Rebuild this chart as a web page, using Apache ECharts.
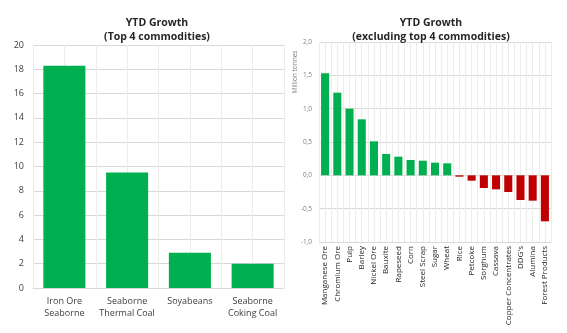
<!DOCTYPE html>
<html>
<head>
<meta charset="utf-8">
<script src="https://cdn.jsdelivr.net/npm/echarts@6/dist/echarts.min.js"></script>
<style>
  html, body { margin: 0; padding: 0; background: #fff; }
  #chart { width: 567px; height: 333px; }
</style>
</head>
<body>
<div id="chart"></div>
<script>
// Top 4 commodities (million tonnes)
const topCategories = ['Iron Ore\nSeaborne', 'Seaborne\nThermal Coal', 'Soyabeans', 'Seaborne\nCoking Coal'];
const topValues = [18.3, 9.5, 2.9, 2.0];
const topTicks = [0, 2, 4, 6, 8, 10, 12, 14, 16, 18, 20];

// Remaining commodities (million tonnes)
const otherCategories = ['Manganese Ore', 'Chromium Ore', 'Pulp', 'Barley', 'Nickel Ore', 'Bauxite',
  'Rapeseed', 'Corn', 'Steel Scrap', 'Sugar', 'Wheat', 'Rice', 'Petcoke', 'Sorghum', 'Cassava',
  'Copper Concentrates', "DDG's", 'Alumina', 'Forest Products'];
const otherValues = [1.53, 1.24, 1.0, 0.84, 0.51, 0.32, 0.28, 0.23, 0.22, 0.19, 0.18,
  -0.02, -0.08, -0.19, -0.21, -0.25, -0.37, -0.38, -0.69];
const otherTicks = ['-1,0', '-0,5', '0,0', '0,5', '1,0', '1,5', '2,0'];

const GREEN = '#00B050';
const RED = '#C00000';
const GRID = '#d9d9d9';
const FONT = 'Open Sans';

const chart = echarts.init(document.getElementById('chart'), null, { renderer: 'canvas' });

const option = {
  backgroundColor: '#ffffff',
  animation: false,
  title: [
    {
      text: 'YTD Growth\n(Top 4 commodities)',
      left: 152, top: 11, textAlign: 'center',
      textStyle: { fontFamily: FONT, fontSize: 10.5, fontWeight: 'bold', color: '#262626', lineHeight: 14 }
    },
    {
      text: 'YTD Growth\n(excluding top 4 commodities)',
      left: 426, top: 11, textAlign: 'center',
      textStyle: { fontFamily: FONT, fontSize: 10.5, fontWeight: 'bold', color: '#262626', lineHeight: 14 }
    }
  ],
  graphic: [
    {
      type: 'text', x: 295, y: 72, rotation: Math.PI / 2,
      style: { text: 'Million tonnes', fontFamily: FONT, fontSize: 6.5, fill: '#7f7f7f',
        align: 'center', verticalAlign: 'middle' }
    }
  ],
  grid: [
    { left: 33, right: 283, top: 45, bottom: 45 },
    { left: 319, right: 16, top: 42, bottom: 91 }
  ],
  xAxis: [
    {
      type: 'category', gridIndex: 0, data: topCategories,
      axisLine: { show: true, lineStyle: { color: GRID } },
      axisTick: { show: false },
      axisLabel: { fontFamily: FONT, fontSize: 9, color: '#404040', lineHeight: 12, margin: 7, interval: 0 },
      z: 3
    },
    {
      // half-category vertical guides
      type: 'value', gridIndex: 0, min: 0, max: topCategories.length, interval: 0.5,
      axisLine: { show: false }, axisTick: { show: false }, axisLabel: { show: false },
      splitLine: { show: true, lineStyle: { color: '#ececec', width: 1 } }
    },
    {
      type: 'category', gridIndex: 1, data: otherCategories, position: 'bottom',
      axisLine: { show: false }, axisTick: { show: false },
      axisLabel: { fontFamily: FONT, fontSize: 8, color: '#262626', rotate: 90, margin: 4, interval: 0 },
      offset: 0
    },
    {
      type: 'value', gridIndex: 1, min: 0, max: otherCategories.length, interval: 0.5,
      axisLine: { show: false }, axisTick: { show: false }, axisLabel: { show: false },
      splitLine: { show: true, lineStyle: { color: '#ececec', width: 1 } }
    }
  ],
  yAxis: [
    {
      type: 'value', gridIndex: 0, min: 0, max: 20, interval: 2,
      axisLine: { show: false }, axisTick: { show: false },
      axisLabel: { fontFamily: FONT, fontSize: 9, color: '#404040', margin: 9,
        formatter: (v) => String(topTicks[Math.round(v / 2)]) },
      splitLine: { lineStyle: { color: GRID } }
    },
    {
      type: 'value', gridIndex: 1, min: -1, max: 2, interval: 0.5,
      axisLine: { show: false }, axisTick: { show: false },
      axisLabel: { fontFamily: FONT, fontSize: 6.5, color: '#7f7f7f', margin: 7,
        formatter: (v) => otherTicks[Math.round((v + 1) / 0.5)] },
      splitLine: { lineStyle: { color: GRID } }
    }
  ],
  series: [
    {
      type: 'bar', xAxisIndex: 0, yAxisIndex: 0, data: topValues,
      barCategoryGap: '33%',
      itemStyle: { color: GREEN },
      z: 4
    },
    {
      type: 'bar', xAxisIndex: 2, yAxisIndex: 1, data: otherValues,
      barCategoryGap: '34%',
      itemStyle: { color: (p) => (p.value >= 0 ? GREEN : RED) },
      z: 4
    }
  ]
};

chart.setOption(option);
</script>
</body>
</html>
